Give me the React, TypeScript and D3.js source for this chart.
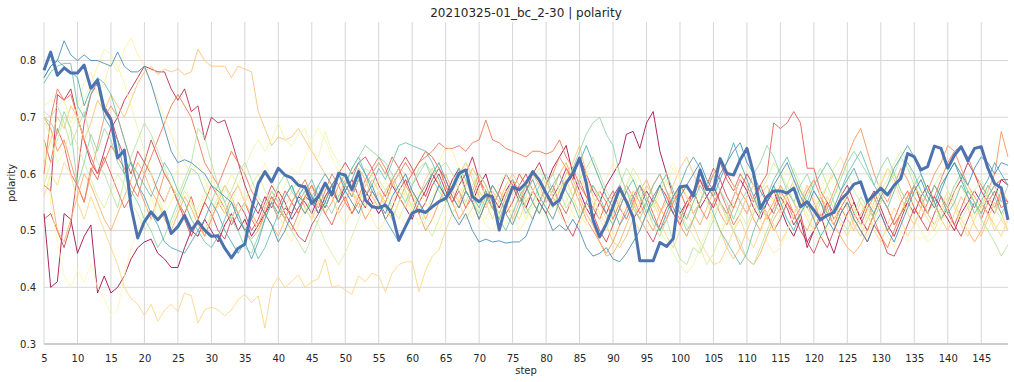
import { useEffect, useRef } from "react";
import * as d3 from "d3";

const TITLE = "20210325-01_bc_2-30 | polarity";
const X_LABEL = "step";
const Y_LABEL = "polarity";

const steps = d3.range(5, 150);
const xTicks = d3.range(5, 150, 5);
const yTicks = [0.3, 0.4, 0.5, 0.6, 0.7, 0.8];

// highlighted run (thick blue)
const mainRun = [
  0.783, 0.815, 0.774, 0.787, 0.778, 0.778, 0.792, 0.751, 0.766, 0.714,
  0.695, 0.628, 0.642, 0.542, 0.487, 0.516, 0.533, 0.519, 0.533, 0.495,
  0.507, 0.527, 0.501, 0.516, 0.501, 0.49, 0.491, 0.469, 0.452, 0.469,
  0.476, 0.536, 0.583, 0.604, 0.586, 0.61, 0.598, 0.593, 0.58, 0.577,
  0.548, 0.56, 0.584, 0.563, 0.601, 0.598, 0.572, 0.604, 0.554, 0.542,
  0.54, 0.545, 0.531, 0.483, 0.507, 0.531, 0.536, 0.532, 0.542, 0.551,
  0.557, 0.575, 0.601, 0.607, 0.56, 0.551, 0.563, 0.56, 0.501, 0.545,
  0.577, 0.572, 0.584, 0.604, 0.589, 0.566, 0.545, 0.554, 0.584, 0.601,
  0.628, 0.584, 0.519, 0.489, 0.512, 0.542, 0.575, 0.551, 0.524, 0.447,
  0.447, 0.447, 0.479, 0.472, 0.486, 0.577, 0.579, 0.561, 0.607, 0.573,
  0.572, 0.627, 0.601, 0.598, 0.625, 0.645, 0.601, 0.539, 0.56, 0.57,
  0.57, 0.566, 0.575, 0.542, 0.551, 0.536, 0.519, 0.527, 0.532, 0.554,
  0.566, 0.582, 0.586, 0.551, 0.563, 0.575, 0.563, 0.58, 0.592, 0.636,
  0.63, 0.607, 0.613, 0.649, 0.645, 0.61, 0.633, 0.648, 0.623, 0.645,
  0.648, 0.61, 0.583, 0.575, 0.519,
];

const run01 = [
  0.53, 0.40, 0.41, 0.53, 0.52, 0.46, 0.49, 0.51, 0.39, 0.42,
  0.39, 0.40, 0.42, 0.45, 0.47, 0.48, 0.485, 0.46, 0.45, 0.435,
  0.435, 0.47, 0.50, 0.49, 0.52, 0.50, 0.48, 0.51, 0.53, 0.50,
  0.52, 0.49, 0.51, 0.53, 0.55, 0.52, 0.54, 0.53, 0.56, 0.55,
  0.53, 0.56, 0.54, 0.57, 0.55, 0.58, 0.56, 0.59, 0.57, 0.55,
  0.53, 0.55, 0.58, 0.56, 0.54, 0.52, 0.55, 0.57, 0.60, 0.58,
  0.56, 0.59, 0.61, 0.57, 0.55, 0.58, 0.60, 0.56, 0.54, 0.57,
  0.59, 0.56, 0.54, 0.57, 0.55, 0.58, 0.61, 0.63, 0.65, 0.60,
  0.57, 0.54, 0.52, 0.55, 0.58, 0.60, 0.62, 0.67, 0.675, 0.645,
  0.69, 0.71, 0.64, 0.60, 0.56, 0.53, 0.55, 0.57, 0.54, 0.56,
  0.58, 0.55, 0.53, 0.56, 0.59, 0.57, 0.54, 0.52, 0.55, 0.57,
  0.54, 0.51, 0.49, 0.52, 0.47, 0.50, 0.53, 0.49, 0.46, 0.50,
  0.53, 0.55, 0.52, 0.50, 0.53, 0.56, 0.54, 0.51, 0.53, 0.55,
  0.58, 0.55, 0.53, 0.56, 0.54, 0.52, 0.50, 0.53, 0.55, 0.57,
  0.55, 0.53, 0.56, 0.59, 0.58,
];

const run02 = [
  0.58, 0.57, 0.74, 0.73, 0.75, 0.70, 0.66, 0.62, 0.60, 0.64,
  0.68, 0.70, 0.73, 0.75, 0.77, 0.79, 0.785, 0.78, 0.78, 0.75,
  0.73, 0.75, 0.71, 0.72, 0.66, 0.70, 0.69, 0.695, 0.66, 0.62,
  0.58, 0.55, 0.53, 0.56, 0.54, 0.57, 0.55, 0.52, 0.54, 0.56,
  0.55, 0.53, 0.56, 0.58, 0.55, 0.57, 0.59, 0.56, 0.54, 0.57,
  0.55, 0.52, 0.54, 0.57, 0.59, 0.56, 0.53, 0.55, 0.58, 0.60,
  0.57, 0.55, 0.58, 0.60, 0.63, 0.59, 0.56, 0.54, 0.57, 0.60,
  0.58, 0.55, 0.57, 0.60, 0.62, 0.59, 0.56, 0.58, 0.61, 0.59,
  0.63, 0.60, 0.57, 0.55, 0.53, 0.56, 0.58, 0.55, 0.52, 0.54,
  0.57, 0.55, 0.58, 0.56, 0.53, 0.51, 0.54, 0.57, 0.59, 0.56,
  0.54, 0.57, 0.60, 0.58, 0.55, 0.53, 0.56, 0.58, 0.55, 0.53,
  0.56, 0.54, 0.51, 0.53, 0.48, 0.50, 0.52, 0.55, 0.53, 0.56,
  0.58, 0.55, 0.52, 0.55, 0.57, 0.54, 0.51, 0.49, 0.52, 0.55,
  0.53, 0.56, 0.58, 0.55, 0.52, 0.54, 0.57, 0.59, 0.62, 0.60,
  0.57, 0.55, 0.53, 0.56, 0.55,
];

const run03 = [
  0.52, 0.53, 0.50, 0.47, 0.51, 0.60, 0.69, 0.74, 0.76, 0.72,
  0.70, 0.66, 0.63, 0.60, 0.64, 0.62, 0.66, 0.63, 0.60, 0.58,
  0.55, 0.52, 0.49, 0.52, 0.55, 0.53, 0.50, 0.485, 0.52, 0.55,
  0.53, 0.50, 0.52, 0.55, 0.58, 0.56, 0.53, 0.51, 0.49, 0.48,
  0.51, 0.53, 0.56, 0.58, 0.60, 0.62, 0.60, 0.62, 0.63, 0.61,
  0.58, 0.56, 0.59, 0.61, 0.63, 0.61, 0.58, 0.56, 0.59, 0.61,
  0.59, 0.56, 0.54, 0.57, 0.55, 0.52, 0.55, 0.58, 0.56, 0.53,
  0.55, 0.58, 0.60, 0.57, 0.55, 0.53, 0.56, 0.54, 0.51, 0.49,
  0.52, 0.55, 0.53, 0.50, 0.48, 0.51, 0.54, 0.57, 0.55, 0.52,
  0.50, 0.48, 0.51, 0.54, 0.56, 0.58, 0.56, 0.53, 0.55, 0.58,
  0.61, 0.59, 0.56, 0.54, 0.57, 0.60, 0.58, 0.55, 0.53, 0.50,
  0.52, 0.55, 0.53, 0.50, 0.48, 0.46, 0.49, 0.47, 0.50, 0.53,
  0.55, 0.52, 0.50, 0.48, 0.51, 0.49, 0.46, 0.455, 0.48, 0.51,
  0.54, 0.52, 0.50, 0.53, 0.56, 0.54, 0.51, 0.49, 0.52, 0.55,
  0.53, 0.56, 0.58, 0.59, 0.59,
];

const run04 = [
  0.66, 0.62, 0.68, 0.65, 0.60, 0.58, 0.55, 0.61, 0.59, 0.63,
  0.60, 0.57, 0.54, 0.56, 0.59, 0.62, 0.60, 0.57, 0.55, 0.58,
  0.55, 0.53, 0.56, 0.52, 0.55, 0.58, 0.56, 0.54, 0.51, 0.53,
  0.55, 0.52, 0.50, 0.53, 0.56, 0.54, 0.57, 0.55, 0.53, 0.56,
  0.58, 0.55, 0.53, 0.51, 0.54, 0.56, 0.53, 0.55, 0.58, 0.60,
  0.62, 0.60, 0.63, 0.61, 0.58, 0.60, 0.62, 0.64, 0.63, 0.61,
  0.58, 0.55, 0.57, 0.54, 0.56, 0.59, 0.57, 0.54, 0.52, 0.55,
  0.57, 0.60, 0.58, 0.55, 0.53, 0.56, 0.58, 0.55, 0.53, 0.56,
  0.59, 0.56, 0.54, 0.52, 0.55, 0.57, 0.54, 0.52, 0.55, 0.58,
  0.56, 0.53, 0.50, 0.52, 0.55, 0.57, 0.54, 0.56, 0.59, 0.57,
  0.60, 0.62, 0.59, 0.57, 0.60, 0.58, 0.55, 0.58, 0.60, 0.69,
  0.68, 0.69, 0.71, 0.69, 0.61, 0.61, 0.57, 0.55, 0.52, 0.54,
  0.56, 0.53, 0.51, 0.54, 0.56, 0.53, 0.50, 0.52, 0.55, 0.57,
  0.54, 0.52, 0.55, 0.58, 0.56, 0.53, 0.51, 0.54, 0.57, 0.55,
  0.52, 0.55, 0.57, 0.54, 0.55,
];

const run05 = [
  0.60, 0.70, 0.75, 0.73, 0.74, 0.70, 0.66, 0.63, 0.60, 0.62,
  0.65, 0.63, 0.61, 0.58, 0.56, 0.60, 0.63, 0.66, 0.69, 0.72,
  0.74, 0.72, 0.70, 0.66, 0.62, 0.60, 0.58, 0.61, 0.64, 0.62,
  0.60, 0.57, 0.55, 0.53, 0.56, 0.54, 0.52, 0.55, 0.57, 0.59,
  0.56, 0.54, 0.57, 0.60, 0.58, 0.55, 0.53, 0.56, 0.59, 0.61,
  0.63, 0.61, 0.58, 0.60, 0.62, 0.60, 0.62, 0.63, 0.64, 0.655,
  0.645, 0.645, 0.65, 0.64, 0.655, 0.66, 0.695, 0.66, 0.655, 0.645,
  0.64, 0.635, 0.63, 0.64, 0.64, 0.635, 0.64, 0.66, 0.63, 0.61,
  0.58, 0.56, 0.54, 0.57, 0.55, 0.52, 0.55, 0.58, 0.56, 0.53,
  0.55, 0.58, 0.60, 0.57, 0.54, 0.52, 0.55, 0.57, 0.54, 0.52,
  0.55, 0.57, 0.54, 0.51, 0.53, 0.56, 0.58, 0.55, 0.52, 0.54,
  0.57, 0.55, 0.52, 0.54, 0.57, 0.59, 0.56, 0.53, 0.51, 0.54,
  0.52, 0.50, 0.53, 0.55, 0.52, 0.49, 0.47, 0.50, 0.53, 0.56,
  0.58, 0.55, 0.53, 0.56, 0.59, 0.62, 0.64, 0.65, 0.63, 0.60,
  0.58, 0.56, 0.54, 0.57, 0.55,
];

const run06 = [
  0.70, 0.68, 0.64, 0.66, 0.62, 0.58, 0.55, 0.60, 0.65, 0.70,
  0.72, 0.70, 0.66, 0.62, 0.58, 0.55, 0.52, 0.56, 0.60, 0.58,
  0.55, 0.53, 0.50, 0.52, 0.49, 0.52, 0.55, 0.53, 0.56, 0.58,
  0.55, 0.53, 0.51, 0.54, 0.57, 0.55, 0.52, 0.50, 0.53, 0.56,
  0.58, 0.56, 0.53, 0.55, 0.58, 0.60, 0.57, 0.55, 0.52, 0.54,
  0.57, 0.54, 0.52, 0.55, 0.58, 0.56, 0.53, 0.50, 0.52, 0.55,
  0.58, 0.55, 0.52, 0.54, 0.57, 0.60, 0.58, 0.55, 0.53, 0.56,
  0.59, 0.57, 0.54, 0.52, 0.55, 0.58, 0.60, 0.63, 0.61, 0.58,
  0.55, 0.52, 0.50, 0.48, 0.46, 0.48, 0.51, 0.54, 0.57, 0.55,
  0.52, 0.50, 0.53, 0.56, 0.54, 0.51, 0.49, 0.52, 0.55, 0.58,
  0.56, 0.53, 0.51, 0.54, 0.57, 0.55, 0.52, 0.50, 0.53, 0.55,
  0.58, 0.56, 0.53, 0.55, 0.58, 0.55, 0.52, 0.54, 0.57, 0.60,
  0.63, 0.66, 0.68, 0.64, 0.60, 0.57, 0.55, 0.58, 0.61, 0.59,
  0.56, 0.54, 0.57, 0.60, 0.62, 0.65, 0.64, 0.61, 0.58, 0.56,
  0.54, 0.57, 0.60, 0.675, 0.63,
];

const run07 = [
  0.58, 0.57, 0.50, 0.48, 0.52, 0.56, 0.60, 0.58, 0.55, 0.52,
  0.50, 0.53, 0.56, 0.59, 0.62, 0.60, 0.57, 0.55, 0.52, 0.50,
  0.53, 0.56, 0.54, 0.51, 0.49, 0.52, 0.55, 0.58, 0.56, 0.53,
  0.50, 0.485, 0.50, 0.53, 0.51, 0.49, 0.52, 0.55, 0.57, 0.54,
  0.52, 0.55, 0.58, 0.56, 0.53, 0.55, 0.58, 0.61, 0.59, 0.56,
  0.54, 0.57, 0.59, 0.56, 0.54, 0.57, 0.55, 0.52, 0.55, 0.58,
  0.60, 0.57, 0.55, 0.58, 0.61, 0.59, 0.56, 0.54, 0.57, 0.55,
  0.52, 0.55, 0.58, 0.60, 0.58, 0.55, 0.57, 0.60, 0.62, 0.59,
  0.56, 0.53, 0.51, 0.48, 0.455, 0.46, 0.48, 0.51, 0.54, 0.57,
  0.59, 0.56, 0.54, 0.52, 0.55, 0.58, 0.56, 0.53, 0.51, 0.54,
  0.57, 0.55, 0.52, 0.50, 0.47, 0.45, 0.44, 0.46, 0.49, 0.52,
  0.54, 0.57, 0.55, 0.52, 0.50, 0.53, 0.56, 0.54, 0.51, 0.49,
  0.47, 0.46, 0.475, 0.50, 0.53, 0.56, 0.54, 0.51, 0.53, 0.56,
  0.58, 0.56, 0.53, 0.51, 0.54, 0.57, 0.55, 0.52, 0.50, 0.48,
  0.50, 0.53, 0.51, 0.49, 0.52,
];

const run08 = [
  0.62, 0.66, 0.70, 0.68, 0.72, 0.70, 0.66, 0.69, 0.73, 0.71,
  0.74, 0.72, 0.70, 0.73, 0.76, 0.78, 0.79, 0.775, 0.785, 0.78,
  0.785, 0.775, 0.78, 0.82, 0.80, 0.79, 0.79, 0.79, 0.77, 0.79,
  0.785, 0.78, 0.71, 0.68, 0.65, 0.665, 0.66, 0.665, 0.68, 0.66,
  0.64, 0.62, 0.60, 0.58, 0.56, 0.59, 0.57, 0.54, 0.56, 0.59,
  0.57, 0.55, 0.58, 0.60, 0.57, 0.54, 0.56, 0.59, 0.61, 0.58,
  0.55, 0.57, 0.60, 0.62, 0.59, 0.56, 0.54, 0.57, 0.55, 0.58,
  0.60, 0.58, 0.55, 0.57, 0.59, 0.56, 0.54, 0.57, 0.60, 0.62,
  0.65, 0.60, 0.56, 0.53, 0.51, 0.48, 0.47, 0.49, 0.52, 0.55,
  0.58, 0.56, 0.53, 0.55, 0.58, 0.61, 0.63, 0.60, 0.57, 0.55,
  0.52, 0.50, 0.47, 0.45, 0.47, 0.50, 0.53, 0.56, 0.58, 0.55,
  0.53, 0.56, 0.59, 0.57, 0.54, 0.52, 0.55, 0.58, 0.60, 0.57,
  0.54, 0.51, 0.49, 0.52, 0.55, 0.58, 0.61, 0.59, 0.56, 0.53,
  0.51, 0.54, 0.57, 0.55, 0.52, 0.50, 0.53, 0.56, 0.54, 0.51,
  0.49, 0.52, 0.55, 0.53, 0.50,
];

const run09 = [
  0.56, 0.60, 0.58, 0.62, 0.60, 0.55, 0.52, 0.56, 0.53, 0.50,
  0.47, 0.44, 0.40, 0.38, 0.37, 0.35, 0.37, 0.34, 0.36, 0.37,
  0.357, 0.39, 0.385, 0.337, 0.36, 0.365, 0.36, 0.35, 0.36, 0.378,
  0.388, 0.373, 0.385, 0.328, 0.399, 0.418, 0.399, 0.41, 0.422, 0.40,
  0.41, 0.415, 0.45, 0.40, 0.403, 0.395, 0.388, 0.42, 0.41, 0.425,
  0.42, 0.392, 0.425, 0.44, 0.445, 0.445, 0.392, 0.43, 0.455, 0.466,
  0.50, 0.53, 0.55, 0.52, 0.54, 0.57, 0.55, 0.52, 0.55, 0.57,
  0.54, 0.52, 0.55, 0.57, 0.59, 0.56, 0.54, 0.57, 0.59, 0.56,
  0.53, 0.55, 0.58, 0.55, 0.52, 0.54, 0.57, 0.55, 0.52, 0.50,
  0.53, 0.55, 0.52, 0.49, 0.47, 0.50, 0.53, 0.51, 0.48, 0.46,
  0.44, 0.445, 0.47, 0.50, 0.52, 0.49, 0.47, 0.50, 0.53, 0.51,
  0.48, 0.50, 0.53, 0.55, 0.52, 0.50, 0.53, 0.56, 0.54, 0.51,
  0.49, 0.52, 0.55, 0.53, 0.50, 0.48, 0.51, 0.54, 0.52, 0.49,
  0.51, 0.54, 0.52, 0.50, 0.53, 0.56, 0.54, 0.51, 0.49, 0.52,
  0.55, 0.53, 0.50, 0.52, 0.50,
];

const run10 = [
  0.72, 0.73, 0.72, 0.73, 0.69, 0.72, 0.76, 0.78, 0.74, 0.76,
  0.80, 0.78, 0.82, 0.84, 0.81, 0.79, 0.76, 0.73, 0.70, 0.67,
  0.64, 0.62, 0.60, 0.62, 0.59, 0.56, 0.54, 0.57, 0.60, 0.58,
  0.55, 0.53, 0.50, 0.52, 0.55, 0.53, 0.50, 0.48, 0.51, 0.54,
  0.52, 0.55, 0.58, 0.56, 0.53, 0.51, 0.54, 0.57, 0.55, 0.52,
  0.50, 0.52, 0.55, 0.58, 0.56, 0.53, 0.55, 0.58, 0.60, 0.62,
  0.65, 0.64, 0.61, 0.58, 0.56, 0.53, 0.51, 0.50, 0.52, 0.55,
  0.53, 0.50, 0.52, 0.55, 0.57, 0.54, 0.52, 0.55, 0.58, 0.56,
  0.53, 0.51, 0.54, 0.57, 0.59, 0.62, 0.60, 0.57, 0.55, 0.52,
  0.50, 0.53, 0.56, 0.58, 0.61, 0.59, 0.56, 0.53, 0.55, 0.58,
  0.60, 0.63, 0.61, 0.58, 0.55, 0.53, 0.56, 0.52, 0.48, 0.46,
  0.47, 0.50, 0.53, 0.55, 0.58, 0.56, 0.53, 0.50, 0.52, 0.55,
  0.57, 0.54, 0.51, 0.49, 0.52, 0.55, 0.58, 0.60, 0.57, 0.55,
  0.52, 0.50, 0.48, 0.49, 0.51, 0.54, 0.56, 0.58, 0.55, 0.52,
  0.54, 0.57, 0.59, 0.56, 0.54,
];

const run11 = [
  0.66, 0.55, 0.48, 0.42, 0.40, 0.43, 0.41, 0.44, 0.40, 0.38,
  0.35, 0.36, 0.42, 0.47, 0.50, 0.53, 0.56, 0.52, 0.55, 0.58,
  0.61, 0.58, 0.55, 0.53, 0.56, 0.59, 0.57, 0.54, 0.52, 0.55,
  0.57, 0.54, 0.58, 0.62, 0.59, 0.56, 0.58, 0.61, 0.60, 0.63,
  0.66, 0.68, 0.66, 0.63, 0.60, 0.58, 0.61, 0.59, 0.56, 0.54,
  0.57, 0.59, 0.56, 0.53, 0.51, 0.54, 0.57, 0.55, 0.52, 0.50,
  0.53, 0.56, 0.58, 0.55, 0.52, 0.55, 0.58, 0.56, 0.53, 0.51,
  0.54, 0.56, 0.59, 0.57, 0.54, 0.52, 0.55, 0.58, 0.56, 0.53,
  0.51, 0.54, 0.56, 0.53, 0.51, 0.49, 0.52, 0.55, 0.57, 0.54,
  0.52, 0.55, 0.57, 0.60, 0.62, 0.59, 0.56, 0.54, 0.57, 0.55,
  0.52, 0.50, 0.53, 0.56, 0.59, 0.61, 0.58, 0.55, 0.53, 0.56,
  0.59, 0.61, 0.58, 0.55, 0.52, 0.54, 0.57, 0.60, 0.58, 0.55,
  0.52, 0.50, 0.53, 0.56, 0.54, 0.51, 0.49, 0.47, 0.50, 0.48,
  0.49, 0.485, 0.49, 0.51, 0.54, 0.57, 0.55, 0.52, 0.50, 0.53,
  0.56, 0.54, 0.51, 0.49, 0.52,
];

const run12 = [
  0.70, 0.66, 0.62, 0.64, 0.68, 0.70, 0.73, 0.76, 0.79, 0.82,
  0.81, 0.79, 0.76, 0.72, 0.68, 0.64, 0.60, 0.56, 0.53, 0.55,
  0.58, 0.55, 0.52, 0.54, 0.57, 0.60, 0.56, 0.53, 0.55, 0.58,
  0.61, 0.64, 0.66, 0.64, 0.66, 0.69, 0.66, 0.65, 0.67, 0.68,
  0.64, 0.63, 0.675, 0.64, 0.62, 0.60, 0.57, 0.55, 0.58, 0.60,
  0.57, 0.54, 0.52, 0.55, 0.57, 0.54, 0.51, 0.53, 0.56, 0.58,
  0.55, 0.53, 0.56, 0.59, 0.57, 0.54, 0.52, 0.55, 0.58, 0.60,
  0.57, 0.55, 0.52, 0.54, 0.57, 0.59, 0.56, 0.53, 0.51, 0.54,
  0.57, 0.60, 0.62, 0.59, 0.56, 0.53, 0.55, 0.58, 0.60, 0.57,
  0.54, 0.52, 0.50, 0.48, 0.46, 0.44, 0.425, 0.44, 0.47, 0.50,
  0.53, 0.55, 0.52, 0.50, 0.53, 0.56, 0.58, 0.55, 0.52, 0.50,
  0.53, 0.56, 0.58, 0.55, 0.53, 0.50, 0.48, 0.51, 0.54, 0.57,
  0.55, 0.52, 0.50, 0.53, 0.56, 0.59, 0.61, 0.58, 0.55, 0.53,
  0.56, 0.59, 0.57, 0.54, 0.52, 0.55, 0.57, 0.60, 0.58, 0.55,
  0.52, 0.50, 0.53, 0.56, 0.54,
];

const run13 = [
  0.58, 0.62, 0.66, 0.70, 0.68, 0.65, 0.62, 0.59, 0.56, 0.54,
  0.57, 0.60, 0.58, 0.55, 0.53, 0.50, 0.52, 0.55, 0.53, 0.51,
  0.54, 0.57, 0.55, 0.52, 0.50, 0.53, 0.56, 0.58, 0.55, 0.53,
  0.55, 0.58, 0.60, 0.57, 0.55, 0.52, 0.54, 0.57, 0.59, 0.56,
  0.53, 0.51, 0.48, 0.46, 0.44, 0.46, 0.49, 0.52, 0.55, 0.57,
  0.59, 0.57, 0.54, 0.52, 0.55, 0.57, 0.54, 0.51, 0.49, 0.52,
  0.55, 0.57, 0.59, 0.62, 0.60, 0.57, 0.55, 0.58, 0.56, 0.53,
  0.51, 0.54, 0.56, 0.59, 0.61, 0.58, 0.56, 0.53, 0.55, 0.58,
  0.60, 0.57, 0.55, 0.52, 0.50, 0.53, 0.56, 0.58, 0.61, 0.59,
  0.56, 0.54, 0.57, 0.59, 0.56, 0.53, 0.51, 0.49, 0.47, 0.44,
  0.46, 0.49, 0.52, 0.55, 0.53, 0.51, 0.54, 0.57, 0.59, 0.62,
  0.60, 0.58, 0.61, 0.58, 0.55, 0.53, 0.56, 0.58, 0.61, 0.63,
  0.60, 0.57, 0.55, 0.52, 0.54, 0.57, 0.59, 0.62, 0.64, 0.62,
  0.59, 0.57, 0.55, 0.58, 0.60, 0.57, 0.55, 0.52, 0.54, 0.57,
  0.59, 0.56, 0.54, 0.52, 0.55,
];

const run14 = [
  0.71, 0.70, 0.72, 0.69, 0.65, 0.68, 0.71, 0.66, 0.62, 0.60,
  0.57, 0.54, 0.59, 0.63, 0.66, 0.69, 0.67, 0.64, 0.61, 0.58,
  0.56, 0.59, 0.62, 0.68, 0.665, 0.62, 0.58, 0.55, 0.57, 0.60,
  0.62, 0.59, 0.56, 0.54, 0.57, 0.55, 0.52, 0.50, 0.48, 0.46,
  0.49, 0.52, 0.55, 0.58, 0.60, 0.58, 0.56, 0.59, 0.61, 0.60,
  0.62, 0.60, 0.59, 0.61, 0.60, 0.58, 0.61, 0.62, 0.60, 0.61,
  0.62, 0.60, 0.57, 0.55, 0.58, 0.60, 0.58, 0.55, 0.53, 0.56,
  0.59, 0.57, 0.54, 0.52, 0.55, 0.58, 0.60, 0.57, 0.54, 0.56,
  0.59, 0.61, 0.63, 0.60, 0.57, 0.55, 0.58, 0.61, 0.59, 0.56,
  0.54, 0.51, 0.49, 0.52, 0.48, 0.45, 0.44, 0.47, 0.46, 0.49,
  0.52, 0.55, 0.53, 0.50, 0.48, 0.45, 0.44, 0.47, 0.50, 0.53,
  0.56, 0.58, 0.55, 0.53, 0.56, 0.59, 0.61, 0.58, 0.55, 0.52,
  0.50, 0.53, 0.56, 0.54, 0.52, 0.55, 0.58, 0.60, 0.63, 0.61,
  0.58, 0.56, 0.53, 0.55, 0.58, 0.60, 0.62, 0.59, 0.57, 0.55,
  0.52, 0.50, 0.48, 0.455, 0.475,
];

const run15 = [
  0.70, 0.69, 0.67, 0.71, 0.68, 0.58, 0.62, 0.67, 0.64, 0.68,
  0.66, 0.62, 0.60, 0.57, 0.55, 0.52, 0.50, 0.47, 0.49, 0.52,
  0.55, 0.58, 0.61, 0.60, 0.57, 0.55, 0.58, 0.55, 0.52, 0.50,
  0.47, 0.46, 0.49, 0.52, 0.55, 0.58, 0.60, 0.57, 0.55, 0.53,
  0.56, 0.58, 0.55, 0.53, 0.56, 0.58, 0.61, 0.63, 0.65, 0.64,
  0.63, 0.62, 0.60, 0.57, 0.55, 0.58, 0.60, 0.62, 0.59, 0.57,
  0.55, 0.58, 0.60, 0.57, 0.55, 0.53, 0.56, 0.54, 0.52, 0.55,
  0.58, 0.56, 0.53, 0.55, 0.58, 0.60, 0.57, 0.55, 0.58, 0.61,
  0.64, 0.67, 0.69, 0.70, 0.67, 0.65, 0.60, 0.57, 0.54, 0.52,
  0.55, 0.58, 0.60, 0.57, 0.55, 0.53, 0.50, 0.52, 0.55, 0.58,
  0.60, 0.57, 0.55, 0.52, 0.55, 0.57, 0.60, 0.62, 0.65, 0.63,
  0.60, 0.57, 0.55, 0.58, 0.60, 0.57, 0.55, 0.53, 0.56, 0.59,
  0.62, 0.64, 0.62, 0.60, 0.58, 0.61, 0.63, 0.60, 0.57, 0.55,
  0.58, 0.60, 0.57, 0.55, 0.52, 0.55, 0.58, 0.60, 0.57, 0.55,
  0.53, 0.56, 0.58, 0.55, 0.58,
];

const run16 = [
  0.76, 0.78, 0.79, 0.795, 0.795, 0.72, 0.70, 0.74, 0.77, 0.76,
  0.74, 0.70, 0.66, 0.62, 0.60, 0.58, 0.56, 0.59, 0.62, 0.60,
  0.57, 0.55, 0.52, 0.50, 0.48, 0.47, 0.49, 0.52, 0.55, 0.53,
  0.50, 0.48, 0.45, 0.47, 0.50, 0.53, 0.56, 0.58, 0.55, 0.57,
  0.59, 0.56, 0.54, 0.57, 0.60, 0.58, 0.61, 0.63, 0.60, 0.58,
  0.61, 0.59, 0.62, 0.65, 0.655, 0.65, 0.645, 0.64, 0.62, 0.59,
  0.56, 0.58, 0.61, 0.59, 0.56, 0.54, 0.57, 0.55, 0.52, 0.50,
  0.53, 0.56, 0.58, 0.55, 0.53, 0.56, 0.58, 0.60, 0.57, 0.55,
  0.52, 0.55, 0.58, 0.56, 0.53, 0.51, 0.54, 0.57, 0.59, 0.56,
  0.53, 0.55, 0.58, 0.60, 0.57, 0.54, 0.52, 0.55, 0.58, 0.56,
  0.53, 0.50, 0.48, 0.46, 0.44, 0.46, 0.50, 0.53, 0.56, 0.59,
  0.61, 0.63, 0.60, 0.57, 0.55, 0.58, 0.60, 0.62, 0.60, 0.57,
  0.60, 0.62, 0.64, 0.61, 0.58, 0.56, 0.54, 0.57, 0.60, 0.62,
  0.60, 0.57, 0.55, 0.58, 0.56, 0.53, 0.55, 0.58, 0.56, 0.53,
  0.55, 0.58, 0.56, 0.53, 0.55,
];

const run17 = [
  0.77, 0.79, 0.80, 0.79, 0.78, 0.77, 0.72, 0.75, 0.76, 0.70,
  0.68, 0.66, 0.60, 0.62, 0.58, 0.56, 0.53, 0.51, 0.48, 0.47,
  0.465, 0.46, 0.48, 0.50, 0.52, 0.55, 0.53, 0.50, 0.48, 0.46,
  0.48, 0.45, 0.48, 0.52, 0.55, 0.53, 0.56, 0.58, 0.55, 0.53,
  0.55, 0.58, 0.60, 0.58, 0.55, 0.57, 0.59, 0.62, 0.60, 0.57,
  0.55, 0.52, 0.50, 0.48, 0.51, 0.53, 0.56, 0.58, 0.60, 0.62,
  0.59, 0.56, 0.54, 0.57, 0.55, 0.52, 0.55, 0.58, 0.56, 0.53,
  0.51, 0.54, 0.57, 0.59, 0.56, 0.54, 0.52, 0.55, 0.58, 0.60,
  0.62, 0.65, 0.62, 0.59, 0.56, 0.54, 0.51, 0.53, 0.56, 0.58,
  0.55, 0.52, 0.50, 0.53, 0.56, 0.58, 0.61, 0.63, 0.61, 0.58,
  0.56, 0.59, 0.62, 0.655, 0.62, 0.59, 0.56, 0.53, 0.55, 0.58,
  0.55, 0.52, 0.50, 0.53, 0.55, 0.52, 0.49, 0.51, 0.54, 0.57,
  0.59, 0.61, 0.58, 0.55, 0.53, 0.56, 0.58, 0.61, 0.63, 0.65,
  0.63, 0.60, 0.57, 0.55, 0.58, 0.60, 0.62, 0.59, 0.56, 0.54,
  0.57, 0.59, 0.62, 0.60, 0.58,
];

const run18 = [
  0.77, 0.79, 0.80, 0.835, 0.81, 0.80, 0.81, 0.80, 0.80, 0.795,
  0.79, 0.815, 0.79, 0.78, 0.78, 0.79, 0.76, 0.72, 0.68, 0.64,
  0.62, 0.625, 0.62, 0.61, 0.60, 0.58, 0.57, 0.56, 0.55, 0.52,
  0.50, 0.52, 0.55, 0.53, 0.51, 0.48, 0.50, 0.53, 0.56, 0.58,
  0.56, 0.53, 0.55, 0.58, 0.60, 0.57, 0.55, 0.53, 0.56, 0.58,
  0.55, 0.53, 0.56, 0.58, 0.60, 0.57, 0.55, 0.53, 0.55, 0.58,
  0.56, 0.53, 0.51, 0.53, 0.50, 0.48, 0.485, 0.48, 0.482, 0.478,
  0.48, 0.48, 0.49, 0.52, 0.55, 0.53, 0.50, 0.51, 0.50, 0.52,
  0.50, 0.47, 0.455, 0.46, 0.47, 0.45, 0.445, 0.46, 0.48, 0.50,
  0.53, 0.56, 0.58, 0.55, 0.53, 0.56, 0.58, 0.60, 0.62, 0.59,
  0.57, 0.60, 0.62, 0.64, 0.655, 0.62, 0.60, 0.57, 0.55, 0.58,
  0.60, 0.62, 0.59, 0.56, 0.54, 0.57, 0.55, 0.52, 0.50, 0.53,
  0.55, 0.52, 0.50, 0.48, 0.51, 0.53, 0.50, 0.48, 0.51, 0.54,
  0.57, 0.59, 0.56, 0.54, 0.57, 0.60, 0.62, 0.60, 0.58, 0.61,
  0.63, 0.62, 0.60, 0.62, 0.615,
];

// position of each thin run along the Spectral colormap
const thinRuns = [run01, run02, run03, run04, run05, run06, run07, run08, run09,
  run10, run11, run12, run13, run14, run15, run16, run17, run18];
const thinShades = [0.0, 0.05, 0.1, 0.15, 0.2, 0.25, 0.3, 0.34, 0.38,
  0.45, 0.5, 0.57, 0.62, 0.68, 0.74, 0.8, 0.85, 0.9];

const W = 1014;
const H = 382;
const margin = { top: 22, right: 6, bottom: 38, left: 44 };
const FONT = "'DejaVu Sans', sans-serif";
const TEXT = "#262626";
const GRID = "#d6d6d6";

export default function App() {
  const svgRef = useRef<SVGSVGElement | null>(null);

  useEffect(() => {
    const svg = d3.select(svgRef.current);
    svg.selectAll("*").remove();

    const x = d3.scaleLinear().domain([5, 149]).range([margin.left, W - margin.right]);
    const y = d3.scaleLinear().domain([0.3, 0.868]).range([H - margin.bottom, margin.top]);

    svg.append("rect").attr("width", W).attr("height", H).attr("fill", "#fff");

    // grid
    const grid = svg.append("g");
    grid.selectAll(".vg").data(xTicks).enter().append("line")
      .attr("x1", (d) => x(d)).attr("x2", (d) => x(d))
      .attr("y1", margin.top).attr("y2", H - margin.bottom)
      .attr("stroke", GRID).attr("stroke-width", 1);
    grid.selectAll(".hg").data(yTicks).enter().append("line")
      .attr("x1", margin.left).attr("x2", W - margin.right)
      .attr("y1", (d) => y(d)).attr("y2", (d) => y(d))
      .attr("stroke", GRID).attr("stroke-width", 1);

    const line = d3.line<number>()
      .x((_, i) => x(steps[i]))
      .y((d) => y(d));

    const plot = svg.append("g");
    thinRuns.forEach((run, k) => {
      plot.append("path")
        .datum(run)
        .attr("d", line)
        .attr("fill", "none")
        .attr("stroke", d3.interpolateSpectral(thinShades[k]))
        .attr("stroke-width", 1)
        .attr("stroke-opacity", 0.85)
        .attr("stroke-linejoin", "round");
    });

    plot.append("path")
      .datum(mainRun)
      .attr("d", line)
      .attr("fill", "none")
      .attr("stroke", "#4c72b0")
      .attr("stroke-width", 3)
      .attr("stroke-linejoin", "round");

    // bottom spine
    svg.append("line")
      .attr("x1", margin.left).attr("x2", W - margin.right)
      .attr("y1", H - margin.bottom).attr("y2", H - margin.bottom)
      .attr("stroke", "#cccccc").attr("stroke-width", 2);

    // x axis
    const xa = svg.append("g")
      .attr("transform", `translate(0,${H - margin.bottom})`)
      .call(d3.axisBottom(x).tickValues(xTicks).tickSize(0).tickPadding(11).tickFormat(d3.format("d")));
    xa.select(".domain").remove();
    xa.selectAll("text").attr("fill", TEXT).style("font-size", "10px").style("font-family", FONT);

    const ya = svg.append("g")
      .attr("transform", `translate(${margin.left},0)`)
      .call(d3.axisLeft(y).tickValues(yTicks).tickSize(0).tickPadding(8).tickFormat(d3.format(".1f")));
    ya.select(".domain").remove();
    ya.selectAll("text").attr("fill", TEXT).style("font-size", "10px").style("font-family", FONT);

    svg.append("text")
      .attr("x", (margin.left + W - margin.right) / 2).attr("y", 17)
      .attr("text-anchor", "middle").attr("fill", TEXT)
      .style("font-size", "12px").style("font-family", FONT)
      .text(TITLE);

    svg.append("text")
      .attr("x", (margin.left + W - margin.right) / 2).attr("y", 374)
      .attr("text-anchor", "middle").attr("fill", TEXT)
      .style("font-size", "10px").style("font-family", FONT)
      .text(X_LABEL);

    svg.append("text")
      .attr("transform", `translate(15,${(margin.top + H - margin.bottom) / 2}) rotate(-90)`)
      .attr("text-anchor", "middle").attr("fill", TEXT)
      .style("font-size", "10px").style("font-family", FONT)
      .text(Y_LABEL);
  }, []);

  return (
    <div style={{ position: "fixed", left: 0, top: 0, width: W, height: H, background: "#fff" }}>
      <svg ref={svgRef} width={W} height={H} style={{ display: "block" }} />
    </div>
  );
}
